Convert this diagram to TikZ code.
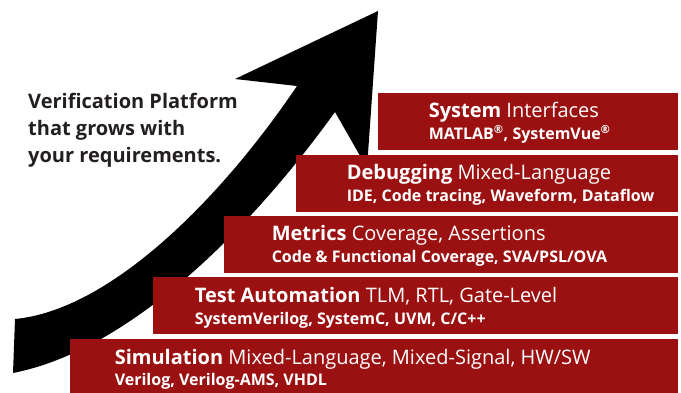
\documentclass[tikz,border=0pt]{standalone}
\usepackage{fontspec}
\setmainfont{Open Sans}
\usetikzlibrary{positioning}
\definecolor{tierred}{RGB}{155,17,17}
\definecolor{slogangray}{RGB}{35,31,32}
\tikzset{
    tier/.style={fill=tierred, inner sep=0pt, minimum height=57pt, anchor=north east}, % the red steps
    tierhead/.style={text=white, anchor=base west, inner sep=0pt, font=\fontsize{20}{24}\selectfont}, % first line of a step
    tiersub/.style={text=white, anchor=base west, inner sep=0pt, font=\bfseries\fontsize{16}{18}\selectfont}, % second line of a step
}

\begin{document}
\begin{tikzpicture}[x=1pt, y=-1pt]
\useasboundingbox (0,0) rectangle (681,393);
% the rising arrow
\fill[black] (15,319) .. controls (110,310) and (220,200) .. (297,86) -- (235,79) -- (378,11)
    -- (367,168) -- (335,112) .. controls (250,230) and (130,350) .. (13,373) -- cycle;
\node[anchor=north west, inner sep=0pt, align=left, text=slogangray,
    font=\bfseries\fontsize{20}{27}\selectfont] (slogan) at (28,93)
    {Verification Platform\\that grows with\\your requirements.};
% steps, top to bottom
\node[tier, minimum width=300pt] (sys) at (678,93) {};
\node[tier, minimum width=382pt, below=4pt of sys.south east, anchor=north east] (dbg) {};
\node[tier, minimum width=454pt, below=4pt of dbg.south east, anchor=north east] (met) {};
\node[tier, minimum width=525pt, below=4pt of met.south east, anchor=north east] (tst) {};
\node[tier, minimum width=608pt, below=4pt of tst.south east, anchor=north east] (sim) {};
% step texts
\node[tierhead] (syshead) at ([xshift=51pt, yshift=-25pt]sys.north west) {\textbf{System} Interfaces};
\node[tiersub] (syssub) at ([xshift=51pt, yshift=-47pt]sys.north west) {MATLAB\textsuperscript{®}, SystemVue\textsuperscript{®}};
\node[tierhead] (dbghead) at ([xshift=51pt, yshift=-25pt]dbg.north west) {\textbf{Debugging} Mixed-Language};
\node[tiersub] (dbgsub) at ([xshift=51pt, yshift=-47pt]dbg.north west) {IDE, Code tracing, Waveform, Dataflow};
\node[tierhead] (methead) at ([xshift=48pt, yshift=-25pt]met.north west) {\textbf{Metrics} Coverage, Assertions};
\node[tiersub] (metsub) at ([xshift=48pt, yshift=-47pt]met.north west) {Code \& Functional Coverage, SVA/PSL/OVA};
\node[tierhead] (tsthead) at ([xshift=42pt, yshift=-25pt]tst.north west) {\textbf{Test Automation} TLM, RTL, Gate-Level};
\node[tiersub] (tstsub) at ([xshift=42pt, yshift=-47pt]tst.north west) {SystemVerilog, SystemC, UVM, C/C++};
\node[tierhead] (simhead) at ([xshift=45pt, yshift=-26pt]sim.north west) {\textbf{Simulation} Mixed-Language, Mixed-Signal, HW/SW};
\node[tiersub] (simsub) at ([xshift=45pt, yshift=-47pt]sim.north west) {Verilog, Verilog-AMS, VHDL};
\end{tikzpicture}
\end{document}
